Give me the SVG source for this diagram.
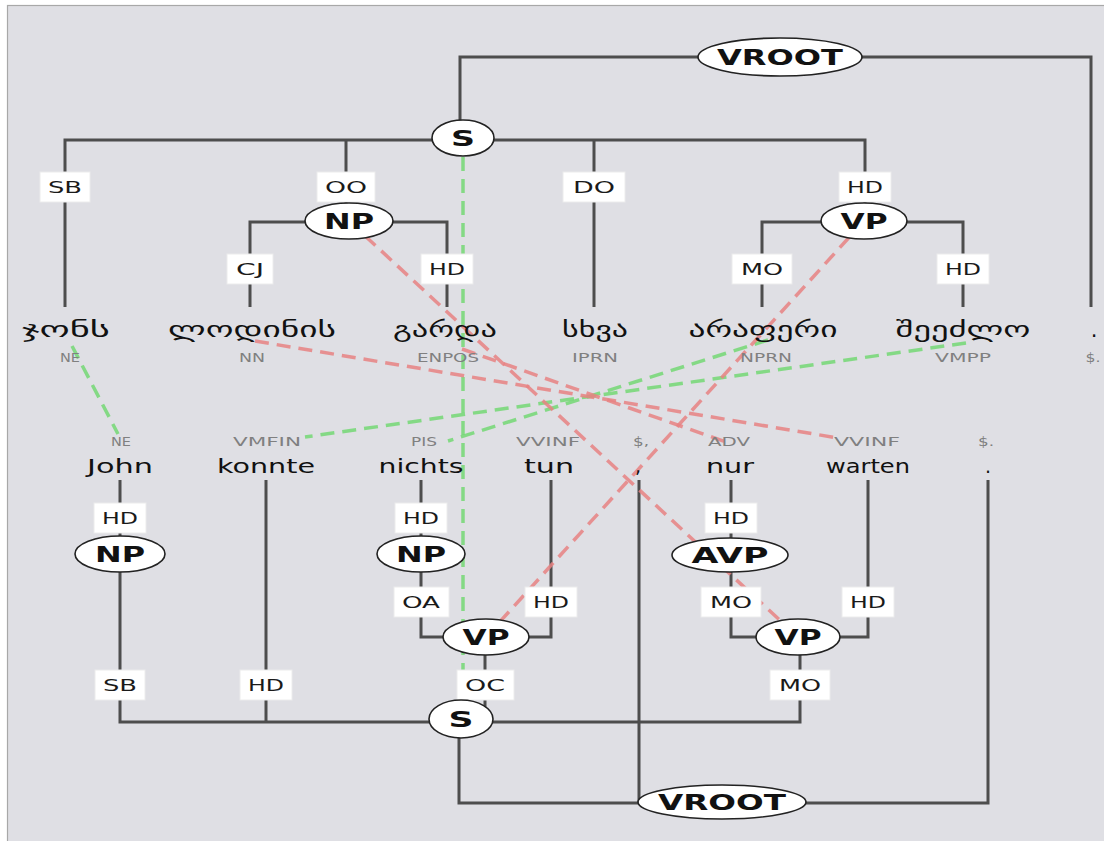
<svg xmlns="http://www.w3.org/2000/svg" width="1104" height="841" viewBox="0 0 1104 841">
<style>
.bg{fill:#dfdfe4;stroke:#a8a8a8;stroke-width:1.2}
.tree{fill:none;stroke:#4d4d4d;stroke-width:3}
.al{fill:none;stroke-width:3.5;stroke-dasharray:14 8}
.g{stroke:#74d874;stroke-opacity:.85}
.r{stroke:#e88282;stroke-opacity:.85}
.lb rect{fill:#ffffff;stroke:#ececec;stroke-width:1}
.lb text{font-family:"DejaVu Sans",sans-serif;font-size:16px;fill:#1a1a1a;text-anchor:middle}
.nd ellipse{fill:#ffffff;stroke:#222222;stroke-width:1.6}
.nd text{font-family:"DejaVu Sans",sans-serif;font-weight:bold;font-size:22px;fill:#111111;text-anchor:middle}
.w{font-family:"DejaVu Sans",sans-serif;font-size:19px;fill:#111111;text-anchor:middle}
.ka{font-family:"DejaVu Sans",sans-serif;font-size:21px;fill:#111111;text-anchor:middle}
.t{font-family:"DejaVu Sans",sans-serif;font-size:13px;fill:#808080;text-anchor:middle}
</style>
<rect x="0" y="0" width="1104" height="841" fill="#ffffff"/>
<rect class="bg" x="7.5" y="5.5" width="1110" height="850"/>

<g id="connectors">
  <g id="tree-lines" class="tree">
    <path d="M460,122 V57 H1091 V307"/>
    <path d="M65,307 V140 H865 V205"/>
    <path d="M346,140 V205"/>
    <path d="M594,140 V307"/>
    <path d="M250,307 V222 H447 V307"/>
    <path d="M762,307 V222 H963 V307"/>
    <path d="M120,480 V722 H800 V655"/>
    <path d="M266,480 V722"/>
    <path d="M421,480 V637 H551 V480"/>
    <path d="M485,655 V712"/>
    <path d="M731,480 V637 H868 V480"/>
    <path d="M459,738 V803 H988 V480"/>
    <path d="M639,480 V803"/>
  </g>
  <g id="alignments">
    <line class="al g" x1="72" y1="346" x2="118" y2="434"/>
    <line class="al g" x1="463" y1="157" x2="463" y2="701"/>
    <line class="al g" x1="966" y1="343" x2="305" y2="437"/>
    <line class="al g" x1="768" y1="340" x2="448" y2="441"/>
    <line class="al r" x1="349" y1="221" x2="798" y2="637"/>
    <line class="al r" x1="864" y1="221" x2="486" y2="637"/>
    <line class="al r" x1="255" y1="341" x2="838" y2="438"/>
    <line class="al r" x1="462" y1="349" x2="726" y2="442"/>
  </g>
  <g id="edge-labels" class="lb">
    <rect x="40" y="172" width="50" height="30"/><text x="65" y="193" textLength="34" lengthAdjust="spacingAndGlyphs">SB</text>
    <rect x="317" y="172" width="58" height="30"/><text x="346" y="193" textLength="42" lengthAdjust="spacingAndGlyphs">OO</text>
    <rect x="563" y="172" width="62" height="30"/><text x="594" y="193" textLength="42" lengthAdjust="spacingAndGlyphs">DO</text>
    <rect x="839" y="172" width="52" height="30"/><text x="865" y="193" textLength="36" lengthAdjust="spacingAndGlyphs">HD</text>
    <rect x="227" y="254" width="46" height="30"/><text x="250" y="275" textLength="28" lengthAdjust="spacingAndGlyphs">CJ</text>
    <rect x="421" y="254" width="52" height="30"/><text x="447" y="275" textLength="36" lengthAdjust="spacingAndGlyphs">HD</text>
    <rect x="732" y="254" width="60" height="30"/><text x="762" y="275" textLength="42" lengthAdjust="spacingAndGlyphs">MO</text>
    <rect x="937" y="254" width="52" height="30"/><text x="963" y="275" textLength="36" lengthAdjust="spacingAndGlyphs">HD</text>
    <rect x="94" y="503" width="52" height="30"/><text x="120" y="524" textLength="36" lengthAdjust="spacingAndGlyphs">HD</text>
    <rect x="395" y="503" width="52" height="30"/><text x="421" y="524" textLength="36" lengthAdjust="spacingAndGlyphs">HD</text>
    <rect x="705" y="503" width="52" height="30"/><text x="731" y="524" textLength="36" lengthAdjust="spacingAndGlyphs">HD</text>
    <rect x="394" y="587" width="55" height="30"/><text x="421" y="608" textLength="38" lengthAdjust="spacingAndGlyphs">OA</text>
    <rect x="525" y="587" width="52" height="30"/><text x="551" y="608" textLength="36" lengthAdjust="spacingAndGlyphs">HD</text>
    <rect x="701" y="587" width="60" height="30"/><text x="731" y="608" textLength="42" lengthAdjust="spacingAndGlyphs">MO</text>
    <rect x="842" y="587" width="52" height="30"/><text x="868" y="608" textLength="36" lengthAdjust="spacingAndGlyphs">HD</text>
    <rect x="95" y="670" width="50" height="30"/><text x="120" y="691" textLength="34" lengthAdjust="spacingAndGlyphs">SB</text>
    <rect x="240" y="670" width="52" height="30"/><text x="266" y="691" textLength="36" lengthAdjust="spacingAndGlyphs">HD</text>
    <rect x="457" y="670" width="57" height="30"/><text x="485" y="691" textLength="40" lengthAdjust="spacingAndGlyphs">OC</text>
    <rect x="770" y="670" width="60" height="30"/><text x="800" y="691" textLength="42" lengthAdjust="spacingAndGlyphs">MO</text>
  </g>
</g>

<g id="n-vroot-top" class="nd"><ellipse cx="780" cy="57" rx="82" ry="19"/><text x="780" y="65" textLength="126" lengthAdjust="spacingAndGlyphs">VROOT</text></g>
<g id="n-s-top" class="nd"><ellipse cx="463" cy="138" rx="31" ry="18"/><text x="463" y="146" textLength="24" lengthAdjust="spacingAndGlyphs">S</text></g>
<g id="n-np-top" class="nd"><ellipse cx="349" cy="221" rx="44" ry="18"/><text x="349" y="229" textLength="50" lengthAdjust="spacingAndGlyphs">NP</text></g>
<g id="n-vp-top" class="nd"><ellipse cx="864" cy="221" rx="43" ry="18"/><text x="864" y="229" textLength="47" lengthAdjust="spacingAndGlyphs">VP</text></g>
<g id="n-np-john" class="nd"><ellipse cx="120" cy="554" rx="45" ry="18"/><text x="120" y="562" textLength="50" lengthAdjust="spacingAndGlyphs">NP</text></g>
<g id="n-np-nichts" class="nd"><ellipse cx="421" cy="554" rx="44" ry="18"/><text x="421" y="562" textLength="50" lengthAdjust="spacingAndGlyphs">NP</text></g>
<g id="n-avp" class="nd"><ellipse cx="730" cy="555" rx="58" ry="17"/><text x="730" y="563" textLength="77" lengthAdjust="spacingAndGlyphs">AVP</text></g>
<g id="n-vp-left" class="nd"><ellipse cx="486" cy="637" rx="43" ry="18"/><text x="486" y="645" textLength="47" lengthAdjust="spacingAndGlyphs">VP</text></g>
<g id="n-vp-right" class="nd"><ellipse cx="798" cy="637" rx="42" ry="18"/><text x="798" y="645" textLength="47" lengthAdjust="spacingAndGlyphs">VP</text></g>
<g id="n-s-bottom" class="nd"><ellipse cx="461" cy="719" rx="32" ry="19"/><text x="461" y="727" textLength="25" lengthAdjust="spacingAndGlyphs">S</text></g>
<g id="n-vroot-bottom" class="nd"><ellipse cx="722" cy="802" rx="84" ry="17"/><text x="722" y="810" textLength="128" lengthAdjust="spacingAndGlyphs">VROOT</text></g>

<g id="w-ka-1"><text class="ka" x="66" y="337" textLength="88" lengthAdjust="spacingAndGlyphs">ჯონს</text><text class="t" x="70" y="362" textLength="20" lengthAdjust="spacingAndGlyphs">NE</text></g>
<g id="w-ka-2"><text class="ka" x="252" y="337" textLength="168" lengthAdjust="spacingAndGlyphs">ლოდინის</text><text class="t" x="252" y="362" textLength="26" lengthAdjust="spacingAndGlyphs">NN</text></g>
<g id="w-ka-3"><text class="ka" x="445" y="337" textLength="104" lengthAdjust="spacingAndGlyphs">გარდა</text><text class="t" x="448" y="362" textLength="62" lengthAdjust="spacingAndGlyphs">ENPOS</text></g>
<g id="w-ka-4"><text class="ka" x="595" y="337" textLength="66" lengthAdjust="spacingAndGlyphs">სხვა</text><text class="t" x="595" y="362" textLength="46" lengthAdjust="spacingAndGlyphs">IPRN</text></g>
<g id="w-ka-5"><text class="ka" x="763" y="337" textLength="149" lengthAdjust="spacingAndGlyphs">არაფერი</text><text class="t" x="766" y="362" textLength="52" lengthAdjust="spacingAndGlyphs">NPRN</text></g>
<g id="w-ka-6"><text class="ka" x="963" y="337" textLength="135" lengthAdjust="spacingAndGlyphs">შეეძლო</text><text class="t" x="963" y="362" textLength="56" lengthAdjust="spacingAndGlyphs">VMPP</text></g>
<g id="w-ka-7"><text class="ka" x="1094" y="337">.</text><text class="t" x="1093" y="362" textLength="15" lengthAdjust="spacingAndGlyphs">$.</text></g>

<g id="w-de-1"><text class="t" x="121" y="446" textLength="20" lengthAdjust="spacingAndGlyphs">NE</text><text class="w" x="120" y="473" textLength="66" lengthAdjust="spacingAndGlyphs">John</text></g>
<g id="w-de-2"><text class="t" x="267" y="446" textLength="68" lengthAdjust="spacingAndGlyphs">VMFIN</text><text class="w" x="266" y="473" textLength="98" lengthAdjust="spacingAndGlyphs">konnte</text></g>
<g id="w-de-3"><text class="t" x="424" y="446" textLength="26" lengthAdjust="spacingAndGlyphs">PIS</text><text class="w" x="421" y="473" textLength="85" lengthAdjust="spacingAndGlyphs">nichts</text></g>
<g id="w-de-4"><text class="t" x="548" y="446" textLength="64" lengthAdjust="spacingAndGlyphs">VVINF</text><text class="w" x="549" y="473" textLength="50" lengthAdjust="spacingAndGlyphs">tun</text></g>
<g id="w-de-5"><text class="t" x="641" y="446" textLength="16" lengthAdjust="spacingAndGlyphs">$,</text><text class="w" x="638" y="473">,</text></g>
<g id="w-de-6"><text class="t" x="729" y="446" textLength="42" lengthAdjust="spacingAndGlyphs">ADV</text><text class="w" x="730" y="473" textLength="48" lengthAdjust="spacingAndGlyphs">nur</text></g>
<g id="w-de-7"><text class="t" x="867" y="446" textLength="66" lengthAdjust="spacingAndGlyphs">VVINF</text><text class="w" x="868" y="473" textLength="84" lengthAdjust="spacingAndGlyphs">warten</text></g>
<g id="w-de-8"><text class="t" x="986" y="446" textLength="16" lengthAdjust="spacingAndGlyphs">$.</text><text class="w" x="988" y="473">.</text></g>
</svg>
